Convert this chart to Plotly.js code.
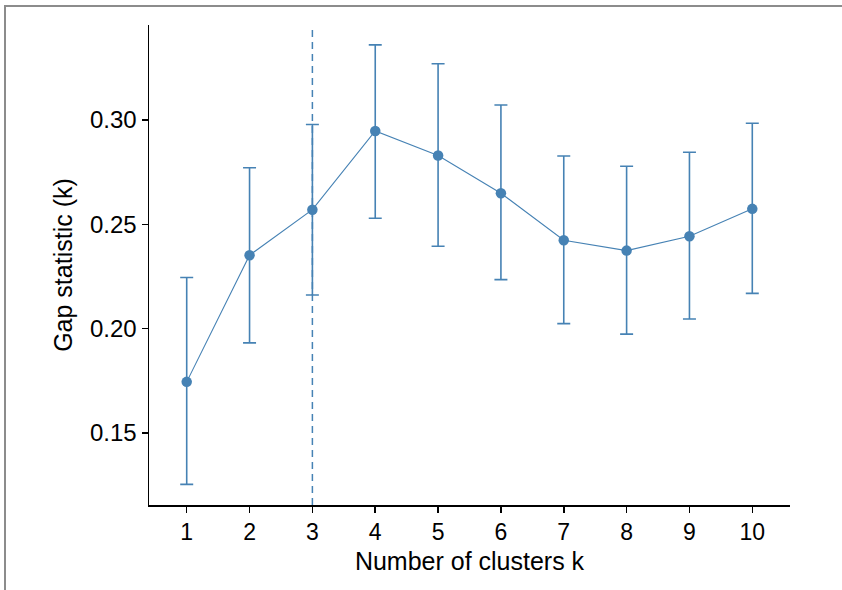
<!DOCTYPE html>
<html>
<head>
<meta charset="utf-8">
<script src="https://cdn.plot.ly/plotly-3.0.1.min.js"></script>
<style>
  html, body { margin: 0; padding: 0; background: #fff; }
  #frame { position: absolute; left: 4px; top: 5px; width: 838px; height: 585px;
           border-top: 2px solid #8c8c8c; border-left: 2px solid #8c8c8c; box-sizing: border-box; }
  #chart { position: absolute; left: 0; top: 0; width: 842px; height: 590px; }
</style>
</head>
<body>
<div id="frame"></div>
<div id="chart"></div>
<script>
// Number of clusters
const clusters = [1, 2, 3, 4, 5, 6, 7, 8, 9, 10];
// Gap statistic values
const gap = [0.1745, 0.2352, 0.2570, 0.2947, 0.2830, 0.2649, 0.2424, 0.2374, 0.2443, 0.2574];
// Error bar bounds (gap - SE, gap + SE)
const gapLow = [0.1254, 0.1932, 0.2161, 0.2529, 0.2395, 0.2235, 0.2024, 0.1974, 0.2046, 0.2169];
const gapHigh = [0.2245, 0.2771, 0.2978, 0.3360, 0.3269, 0.3072, 0.2827, 0.2778, 0.2845, 0.2984];
// Optimal k (dashed line)
const optimalK = 3;
const yTicks = [0.15, 0.20, 0.25, 0.30];

const color = '#4682B4';
const errPlus = gap.map((v, i) => gapHigh[i] - v);
const errMinus = gap.map((v, i) => v - gapLow[i]);

const trace = {
  x: clusters, y: gap, type: 'scatter', mode: 'lines+markers',
  line: { color: color, width: 1.1 },
  marker: { color: color, size: 10.5 },
  error_y: { type: 'data', symmetric: false, array: errPlus, arrayminus: errMinus,
             color: color, thickness: 1.6, width: 6.5 },
  hoverinfo: 'x+y', showlegend: false
};

const font = { family: 'Liberation Sans, Arial, sans-serif', color: '#000' };
const layout = {
  width: 842, height: 590,
  margin: { l: 149, r: 52, t: 25, b: 85 },
  paper_bgcolor: 'rgba(0,0,0,0)', plot_bgcolor: '#fff',
  font: font,
  xaxis: {
    range: [0.4, 10.6], tickvals: clusters, ticktext: clusters.map(String),
    showgrid: false, zeroline: false, showline: true, linecolor: '#000', linewidth: 1.5,
    ticks: 'outside', ticklen: 6, tickwidth: 1.5, tickcolor: '#000',
    tickfont: { family: font.family, size: 23, color: '#000' },
    title: { text: 'Number of clusters k', font: { family: font.family, size: 25, color: '#000' }, standoff: 8 }
  },
  yaxis: {
    range: [0.1155, 0.3455], tickvals: yTicks, ticktext: yTicks.map(v => v.toFixed(2)),
    showgrid: false, zeroline: false, showline: true, linecolor: '#000', linewidth: 1.5,
    ticks: 'outside', ticklen: 6, tickwidth: 1.5, tickcolor: '#000',
    tickfont: { family: font.family, size: 24, color: '#000' },
    title: { text: 'Gap statistic (k)', font: { family: font.family, size: 25, color: '#000' }, standoff: 10 }
  },
  shapes: [{
    type: 'line', xref: 'x', yref: 'paper', x0: optimalK, x1: optimalK, y0: 0, y1: 1,
    line: { color: color, width: 1.5, dash: '7px,5px' }
  }]
};

Plotly.newPlot('chart', [trace], layout, { displayModeBar: false, staticPlot: true });
</script>
</body>
</html>
